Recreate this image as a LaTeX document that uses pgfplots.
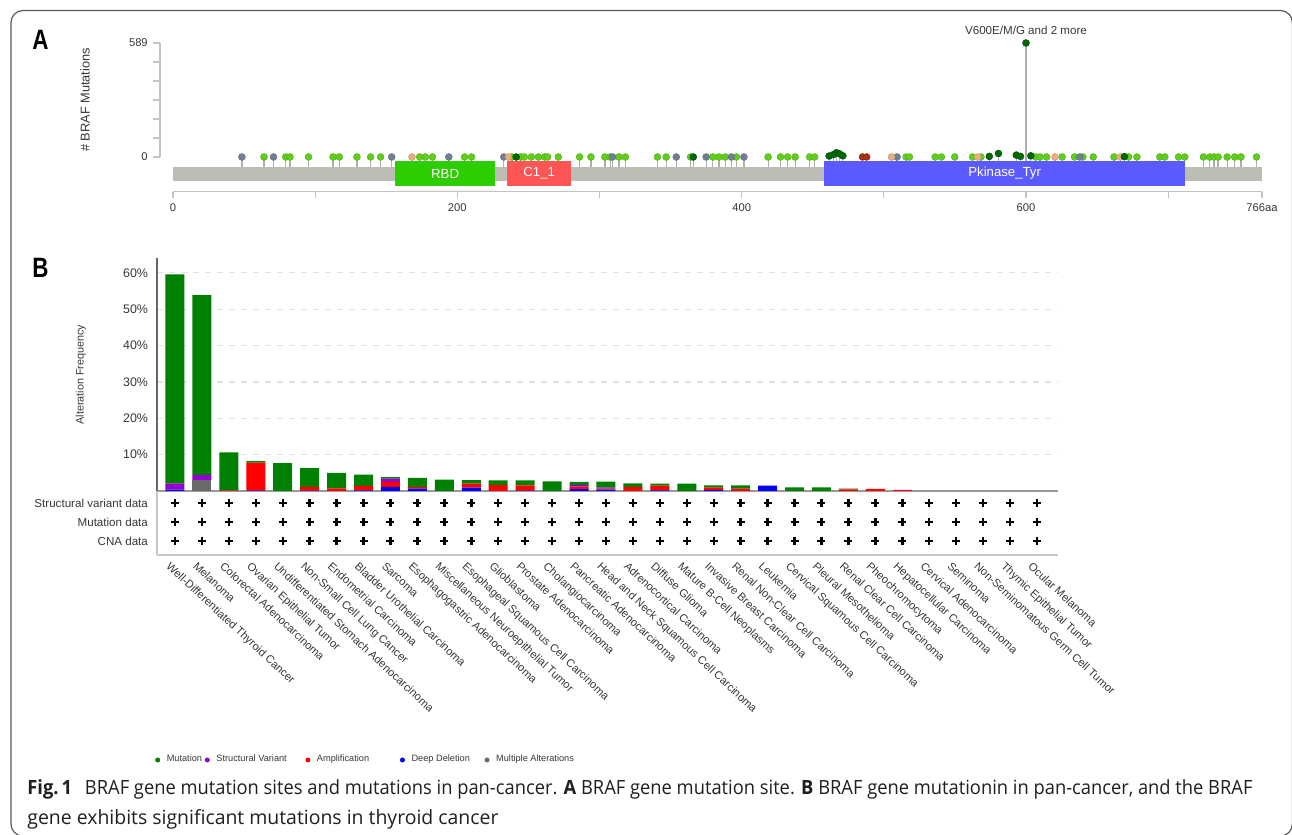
\documentclass[border=0pt]{standalone}
\usepackage{pgfplots}
\pgfplotsset{compat=1.18}
\usepackage{pgfplotstable}
\usepackage{graphicx}
\usepackage{fontspec}
\setmainfont{Liberation Sans}
\newfontfamily\capfont{Open Sans}

\definecolor{mutG}{RGB}{0,128,0}
\definecolor{svP}{RGB}{148,0,211}
\definecolor{ampR}{RGB}{255,0,0}
\definecolor{delB}{RGB}{0,0,255}
\definecolor{multG}{RGB}{105,105,105}
\definecolor{lgreen}{RGB}{95,205,25}
\definecolor{lolgray}{RGB}{112,128,144}
\definecolor{dgreen}{RGB}{0,105,0}
\definecolor{ltan}{RGB}{235,175,125}
\definecolor{lbrown}{RGB}{165,50,10}
\definecolor{protgray}{RGB}{188,190,182}
\definecolor{rbd}{RGB}{45,205,0}
\definecolor{cone}{RGB}{255,85,85}
\definecolor{pkin}{RGB}{90,90,255}
\definecolor{txt}{RGB}{55,55,55}
\definecolor{axgray}{RGB}{195,195,195}
\definecolor{stemgray}{RGB}{175,175,175}

% lollipops: position (aa), count
\pgfplotstableread{
pos cnt
64 0
79.3 0
82.3 0
95.3 0
112.6 0
117 0
129.4 0
139 0
146 0
173.5 0
177.5 0
182.5 0
205.1 0
210 0
238.4 0
244.6 0
247.1 0
252 0
257 0
261.4 0
263.5 0
271 0
286 0
294 0
303.8 0
307.5 0
313.7 0
318.2 0
340.8 0
346.9 0
364.1 0
379.7 0
384.0 0
388.4 0
396.3 0
418.6 0
427.3 0
432.3 0
437.6 0
447.8 0
451.3 0
515.7 0
518 0
536.1 0
540.5 0
549.9 0
562.4 0
568.3 0
606.9 0
609.8 0
614.5 0
625.4 0
634.1 0
640 0
647.3 0
661.9 0
672.2 0
678 0
694.1 0
697.6 0
707.3 0
711.7 0
724.8 0
729.3 0
732.2 0
735.1 0
741.5 0
746.8 0
751.2 0
762.1 0
}\lolLG
\pgfplotstableread{
pos cnt
48.5 0
70.7 0
153.8 0
194 0
232.7 0
309.2 0
354 0
375 0
392.8 0
401.6 0
509.3 0
637.9 0
}\lolGR
\pgfplotstableread{
pos cnt
168.1 0
236 0
505.4 0
566 0
620.4 0
666.3 0
}\lolTN
\pgfplotstableread{
pos cnt
485 0
487.9 0
}\lolBR
\pgfplotstableread{
pos cnt
241.4 0
366 0
461.5 5
464.4 12
466.6 22
468.9 16
471.2 6
574.2 3
580.6 18
593.2 10
596.1 3
603.4 6
669.2 2
600 589
}\lolDG

% alteration frequency (%): x, multiple, deep deletion, amplification, structural variant, mutation
\pgfplotstableread{
x mult del amp sv mut
0 0 0.4 0 1.6 57.6
1 3.0 0 0 1.4 49.5
2 0 0 0.2 0 10.4
3 0 0.1 7.7 0 0.45
4 0 0 0 0 7.7
5 0 0.1 1.0 0 5.2
6 0 0 0.7 0 4.3
7 0 0.2 1.2 0 3.1
8 0 1.1 1.4 0.9 0.45
9 0 0.65 0.45 0 2.5
10 0 0 0 0 3.1
11 0 0.9 1.1 0 1.0
12 0 0 1.6 0 1.3
13 0 0.1 1.45 0 1.35
14 0 0 0 0 2.65
15 0 0.5 0.7 0.5 0.8
16 0 0.35 0.3 0.3 1.6
17 0 0 1.1 0 1.0
18 0 0.2 1.3 0 0.5
19 0 0 0 0 2.0
20 0 0.25 0.65 0 0.65
21 0 0 0.65 0 0.9
22 0 1.45 0 0 0
23 0 0 0 0 1.0
24 0 0 0 0 1.0
25 0 0 0.45 0 0.2
26 0 0 0.55 0 0
27 0 0 0.28 0 0
28 0 0 0 0 0
29 0 0 0 0 0
30 0 0 0 0 0
31 0 0 0 0 0
32 0 0 0 0 0
}\freq

\begin{document}
\begin{tikzpicture}
\useasboundingbox (0,0) rectangle (646pt,417.5pt);
% frame
\draw[color=black!65, line width=0.6pt, rounded corners=6pt] (5.5pt,-0.5pt) rectangle (646.2pt,412.25pt);

% panel labels
\node[font=\bfseries\fontsize{14}{15}\selectfont] at (20.2pt,397.5pt) {\scalebox{0.8}[1]{A}};
\node[font=\bfseries\fontsize{14}{15}\selectfont] at (20.2pt,283.5pt) {\scalebox{0.8}[1]{B}};

% ---------------- Panel A ----------------
\begin{axis}[
  at={(86.5pt,321.65pt)}, anchor=south west,
  scale only axis, width=544.5pt, height=75.42pt,
  xmin=0, xmax=766, ymin=-179.3, ymax=600,
  clip=false,
  axis x line*=bottom, axis y line=none,
  x axis line style={color=axgray, line width=0.8pt},
  xtick={0,100,200,300,400,500,600,700,766},
  xticklabels={0,,200,,400,,600,,766aa},
  tick align=outside, major tick length=3pt,
  xtick style={color=axgray, line width=0.6pt},
  x tick label style={font=\fontsize{5.6}{6}\selectfont, text=txt, yshift=0.5pt},
  ytick=\empty,
]
\fill[protgray] (axis cs:0,-51.67) rectangle (axis cs:766,-124);
\pgfplotsset{lol/.style={only marks, mark=*, mark size=1.75pt,
   error bars/y dir=minus, error bars/y explicit, error bars/error mark=none,
   error bars/error bar style={color=stemgray, line width=0.6pt}}}
\addplot[lol, mark options={fill=lgreen, draw=lgreen!85!black, line width=0.2pt}]
  table[x=pos, y=cnt, y error minus expr=\thisrow{cnt}+51.67] {\lolLG};
\addplot[lol, mark options={fill=lolgray, draw=lolgray!85!black, line width=0.2pt}]
  table[x=pos, y=cnt, y error minus expr=\thisrow{cnt}+51.67] {\lolGR};
\addplot[lol, mark options={fill=ltan, draw=ltan!85!black, line width=0.2pt}]
  table[x=pos, y=cnt, y error minus expr=\thisrow{cnt}+51.67] {\lolTN};
\addplot[lol, mark options={fill=lbrown, draw=lbrown!85!black, line width=0.2pt}]
  table[x=pos, y=cnt, y error minus expr=\thisrow{cnt}+51.67] {\lolBR};
\addplot[lol, mark options={fill=dgreen, draw=dgreen!70!black, line width=0.2pt}]
  table[x=pos, y=cnt, y error minus expr=\thisrow{cnt}+51.67] {\lolDG};
% domains
\fill[rbd] (axis cs:156.2,-20.67) rectangle (axis cs:226.5,-149.8);
\fill[cone] (axis cs:235,-20.67) rectangle (axis cs:280,-149.8);
\fill[pkin] (axis cs:458,-20.67) rectangle (axis cs:712,-149.8);
\node[text=white, font=\fontsize{6.6}{7}\selectfont] at (axis cs:191.4,-85.2) {RBD};
\node[text=white, font=\fontsize{6.6}{7}\selectfont] at (axis cs:257.5,-85.2) {C1\_1};
\node[text=white, font=\fontsize{6.6}{7}\selectfont] at (axis cs:585,-85.2) {Pkinase\_Tyr};
% y axis (0 .. 589)
\draw[color=axgray, line width=0.6pt] (axis cs:-9.1,0) -- (axis cs:-9.1,589);
\draw[color=axgray, line width=0.6pt] (axis cs:-9.1,0) -- (axis cs:-14,0);
\draw[color=axgray, line width=0.6pt] (axis cs:-9.1,98.17) -- (axis cs:-14,98.17);
\draw[color=axgray, line width=0.6pt] (axis cs:-9.1,196.33) -- (axis cs:-14,196.33);
\draw[color=axgray, line width=0.6pt] (axis cs:-9.1,294.5) -- (axis cs:-14,294.5);
\draw[color=axgray, line width=0.6pt] (axis cs:-9.1,392.67) -- (axis cs:-14,392.67);
\draw[color=axgray, line width=0.6pt] (axis cs:-9.1,490.83) -- (axis cs:-14,490.83);
\draw[color=axgray, line width=0.6pt] (axis cs:-9.1,589) -- (axis cs:-14,589);
\node[anchor=east, inner sep=0pt, text=txt, font=\fontsize{5.6}{6}\selectfont] at (axis cs:-17.5,589) {589};
\node[anchor=east, inner sep=0pt, text=txt, font=\fontsize{5.6}{6}\selectfont] at (axis cs:-17.5,0) {0};
\node[rotate=90, text=txt, font=\fontsize{6.4}{7}\selectfont] at (axis cs:-61.9,294.5) {\# BRAF Mutations};
\node[anchor=south, inner sep=0pt, text=txt, font=\fontsize{5.8}{6}\selectfont] at (axis cs:600,589) [yshift=4pt] {V600E/M/G and 2 more};
\end{axis}

% ---------------- Panel B: bars ----------------
\begin{axis}[
  at={(78.5pt,172pt)}, anchor=south west,
  scale only axis, width=450.5pt, height=116.5pt,
  xmin=-0.668, xmax=32.78, ymin=0, ymax=64.1,
  ybar stacked, bar width=9.5pt,
  axis x line*=bottom, axis y line*=left,
  x axis line style={color=black!40, line width=1pt},
  y axis line style={color=black!60, line width=0.6pt},
  xtick=\empty,
  ytick={10,20,30,40,50,60},
  yticklabels={10\%,20\%,30\%,40\%,50\%,60\%},
  major tick length=0pt,
  y tick label style={font=\fontsize{6.2}{7}\selectfont, text=txt, xshift=-1pt},
  ymajorgrids, grid style={dashed, color=black!12, line width=0.6pt},
  ylabel={Alteration Frequency},
  ylabel style={font=\fontsize{5.4}{6}\selectfont, text=txt, at={(axis description cs:-0.071,0.5)}},
  reverse legend, legend columns=5,
  legend style={at={(axis description cs:-0.002,-1.1545)}, anchor=west,
     draw=none, fill=none, inner sep=0pt, outer sep=0pt,
     nodes={inner sep=0pt, font=\fontsize{4.6}{5}\selectfont, text=txt},
     /tikz/every odd column/.style={column sep=3.3pt}},
  legend image code/.code={\fill[#1] (0pt,0pt) circle (1.25pt);},
]
\addplot[fill=multG, draw=none] table[x=x, y=mult] {\freq};
\addplot[fill=delB, draw=none] table[x=x, y=del] {\freq};
\addplot[fill=ampR, draw=none] table[x=x, y=amp] {\freq};
\addplot[fill=svP, draw=none] table[x=x, y=sv] {\freq};
\addplot[fill=mutG, draw=none] table[x=x, y=mut] {\freq};
\addlegendentry{\makebox[44pt][l]{Multiple Alterations}}
\addlegendentry{\makebox[36.5pt][l]{Deep Deletion}}
\addlegendentry{\makebox[41.5pt][l]{Amplification}}
\addlegendentry{\makebox[44.5pt][l]{Structural Variant}}
\addlegendentry{\makebox[19pt][l]{Mutation}}
\end{axis}

% ---------------- Panel B: data table + category labels ----------------
\begin{axis}[
  at={(78.5pt,140pt)}, anchor=south west,
  scale only axis, width=450.5pt, height=32pt,
  xmin=-0.668, xmax=32.78, ymin=0, ymax=64,
  clip=false,
  axis x line*=bottom, axis y line*=left,
  axis line style={color=black!22, line width=0.8pt},
  major tick length=0pt,
  ytick={14,33,52},
  yticklabels={CNA data, Mutation data, Structural variant data},
  y tick label style={font=\fontsize{5.8}{6}\selectfont, text=txt, xshift=-1pt},
  xtick={0,1,...,32},
  xticklabels={Well-Differentiated Thyroid Cancer, Melanoma, Colorectal Adenocarcinoma, Ovarian Epithelial Tumor, Undifferentiated Stomach Adenocarcinoma, Non-Small Cell Lung Cancer, Endometrial Carcinoma, Bladder Urothelial Carcinoma, Sarcoma, Esophagogastric Adenocarcinoma, Miscellaneous Neuroepithelial Tumor, Esophageal Squamous Cell Carcinoma, Glioblastoma, Prostate Adenocarcinoma, Cholangiocarcinoma, Pancreatic Adenocarcinoma, Head and Neck Squamous Cell Carcinoma, Adrenocortical Carcinoma, Diffuse Glioma, Mature B-Cell Neoplasms, Invasive Breast Carcinoma, Renal Non-Clear Cell Carcinoma, Leukemia, Cervical Squamous Cell Carcinoma, Pleural Mesothelioma, Renal Clear Cell Carcinoma, Pheochromocytoma, Hepatocellular Carcinoma, Cervical Adenocarcinoma, Seminoma, Non-Seminomatous Germ Cell Tumor, Thymic Epithelial Tumor, Ocular Melanoma},
  x tick label style={font=\fontsize{5.6}{6}\selectfont, text=txt, xshift=-2pt, yshift=-1.5pt, rotate=-43, anchor=north west, inner sep=1pt},
]
\pgfplotsset{plus/.style={only marks, mark=+, mark size=2pt, line width=1.2pt, color=black}}
\addplot[plus] coordinates {(0,52)(1,52)(2,52)(3,52)(4,52)(5,52)(6,52)(7,52)(8,52)(9,52)(10,52)(11,52)(12,52)(13,52)(14,52)(15,52)(16,52)(17,52)(18,52)(19,52)(20,52)(21,52)(22,52)(23,52)(24,52)(25,52)(26,52)(27,52)(28,52)(29,52)(30,52)(31,52)(32,52)};
\addplot[plus] coordinates {(0,33)(1,33)(2,33)(3,33)(4,33)(5,33)(6,33)(7,33)(8,33)(9,33)(10,33)(11,33)(12,33)(13,33)(14,33)(15,33)(16,33)(17,33)(18,33)(19,33)(20,33)(21,33)(22,33)(23,33)(24,33)(25,33)(26,33)(27,33)(28,33)(29,33)(30,33)(31,33)(32,33)};
\addplot[plus] coordinates {(0,14)(1,14)(2,14)(3,14)(4,14)(5,14)(6,14)(7,14)(8,14)(9,14)(10,14)(11,14)(12,14)(13,14)(14,14)(15,14)(16,14)(17,14)(18,14)(19,14)(20,14)(21,14)(22,14)(23,14)(24,14)(25,14)(26,14)(27,14)(28,14)(29,14)(30,14)(31,14)(32,14)};
\end{axis}

% caption
\node[anchor=base west, inner sep=0pt, text=black!88] at (13.5pt,20pt) {\resizebox{612.5pt}{\height}{\capfont\fontsize{9.8}{11}\selectfont\textbf{Fig.\,1}\hspace{0.7em}BRAF gene mutation sites and mutations in pan-cancer. \textbf{A} BRAF gene mutation site. \textbf{B} BRAF gene mutationin in pan-cancer, and the BRAF}};
\node[anchor=base west, inner sep=0pt, text=black!88] at (13.5pt,5pt) {\resizebox{235.5pt}{\height}{\capfont\fontsize{9.8}{11}\selectfont gene exhibits significant mutations in thyroid cancer}};
\end{tikzpicture}
\end{document}
